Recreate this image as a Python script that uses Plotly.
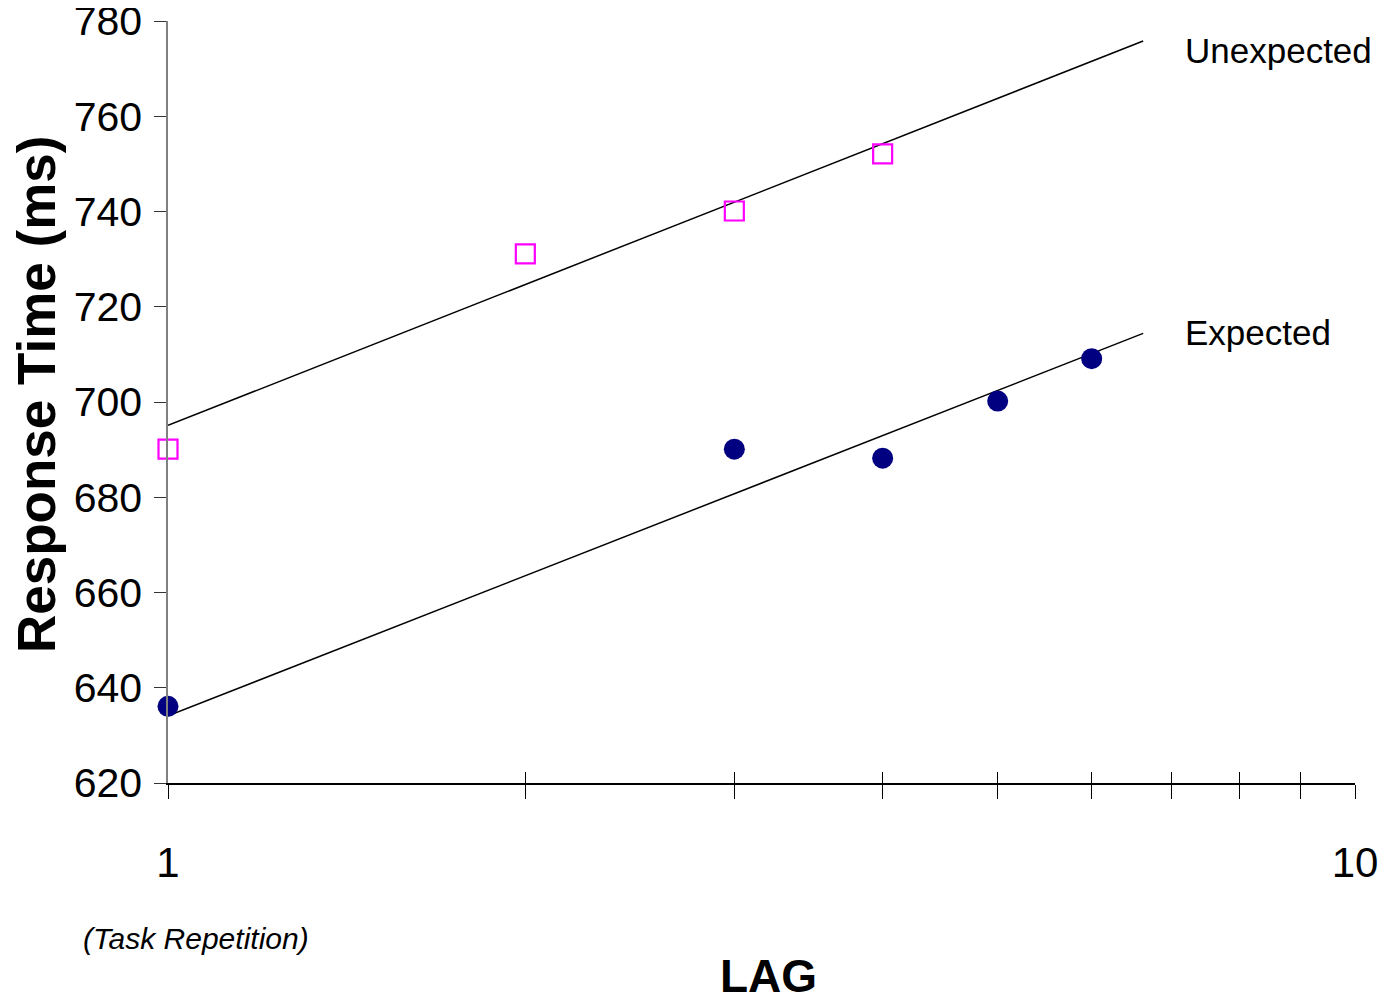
import plotly.graph_objects as go

# ---- data ----
unexpected_lag = [1, 2, 3, 4]
unexpected_rt = [690.1, 731.1, 740.1, 752.1]
expected_lag = [1, 3, 4, 5, 6]
expected_rt = [636.1, 690.1, 688.2, 700.2, 709.1]

# logarithmic trend lines (straight on a log axis), endpoints
trend_lag = [1, 6.63]
unexpected_trend = [695.1, 775.8]
expected_trend = [634.1, 714.4]

x_tickvals = [1, 2, 3, 4, 5, 6, 7, 8, 9, 10]
x_ticktext = ["1", "", "", "", "", "", "", "", "", "10"]
y_tickvals = [620, 640, 660, 680, 700, 720, 740, 760, 780]

FONT = "Liberation Sans Narrow, Arial Narrow, Liberation Sans, Arial, sans-serif"
WIDE = "Liberation Sans, Arial, sans-serif"

fig = go.Figure()

fig.add_trace(go.Scatter(x=trend_lag, y=unexpected_trend, mode="lines",
                         line=dict(color="black", width=1.5), showlegend=False))
fig.add_trace(go.Scatter(x=trend_lag, y=expected_trend, mode="lines",
                         line=dict(color="black", width=1.5), showlegend=False))
fig.add_trace(go.Scatter(x=unexpected_lag, y=unexpected_rt, mode="markers",
                         marker=dict(symbol="square-open", size=19, color="#FF00FF",
                                     line=dict(width=2.2, color="#FF00FF")),
                         showlegend=False, cliponaxis=False))
fig.add_trace(go.Scatter(x=expected_lag, y=expected_rt, mode="markers",
                         marker=dict(symbol="circle", size=21, color="#000080",
                                     line=dict(width=0)),
                         showlegend=False, cliponaxis=False))
# helper trace for the overlaid axis that draws the inner half of x ticks
fig.add_trace(go.Scatter(x=[1, 10], y=[620, 620], mode="markers",
                         marker=dict(opacity=0), xaxis="x2", showlegend=False,
                         hoverinfo="skip"))

fig.update_layout(
    width=1395, height=1005,
    margin=dict(l=160, r=48, t=13, b=230, autoexpand=False),
    paper_bgcolor="white", plot_bgcolor="white",
    xaxis=dict(type="log", range=[0, 1], tickvals=x_tickvals, ticktext=x_ticktext,
               ticks="outside", ticklen=14, tickcolor="black", tickwidth=1,
               showline=True, linecolor="black", linewidth=1.5,
               showgrid=False, zeroline=False, automargin=False,
               tickfont=dict(family=FONT, size=42, color="black"),
               ticklabelstandoff=28, ticklabeloverflow="allow"),
    xaxis2=dict(type="log", range=[0, 1], overlaying="x", anchor="y",
                tickvals=x_tickvals, showticklabels=False,
                ticks="inside", ticklen=11, tickcolor="black", tickwidth=1,
                showline=False, showgrid=False, zeroline=False, automargin=False),
    yaxis=dict(range=[620, 780], tickvals=y_tickvals,
               ticks="outside", ticklen=12, tickcolor="#333333", tickwidth=1,
               showline=True, linecolor="#808080", linewidth=1.5,
               showgrid=False, zeroline=False, automargin=False,
               tickfont=dict(family=FONT, size=41, color="black"),
               ticklabelstandoff=4, ticklabeloverflow="allow"),
)

# helpers converting page pixels (plot area 168..1355 x, 21..783 y) to paper units
def px_x(px):
    return (px - 168) / 1187.0

def px_y(py):
    return (783 - py) / 762.0

fig.add_annotation(text="<b>Response Time (ms)</b>", xref="paper", yref="paper",
                   x=px_x(36), y=px_y(395), textangle=-90, showarrow=False,
                   xanchor="center", yanchor="middle",
                   font=dict(family=WIDE, size=53, color="black"))
fig.add_annotation(text="Unexpected", xref="paper", yref="paper",
                   x=px_x(1183), y=px_y(50), showarrow=False,
                   xanchor="left", yanchor="middle",
                   font=dict(family=FONT, size=35, color="black"))
fig.add_annotation(text="Expected", xref="paper", yref="paper",
                   x=px_x(1183), y=px_y(332), showarrow=False,
                   xanchor="left", yanchor="middle",
                   font=dict(family=FONT, size=35, color="black"))
fig.add_annotation(text="<i>(Task Repetition)</i>", xref="paper", yref="paper",
                   x=px_x(81), y=px_y(938), showarrow=False,
                   xanchor="left", yanchor="middle",
                   font=dict(family=FONT, size=30, color="black"))
fig.add_annotation(text="<b>LAG</b>", xref="paper", yref="paper",
                   x=px_x(769), y=px_y(976), showarrow=False,
                   xanchor="center", yanchor="middle",
                   font=dict(family=FONT, size=46, color="black"))

fig.write_html("out.html")
